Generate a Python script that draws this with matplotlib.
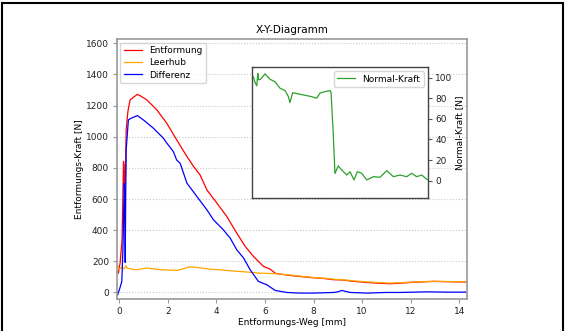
import matplotlib
matplotlib.use("Agg")
import matplotlib.pyplot as plt
from matplotlib.patches import Rectangle

# ---- data ----
entf_x = [-0.03, 0.04, 0.12, 0.18, 0.20, 0.24, 0.29, 0.36, 0.45, 0.59, 0.75, 0.85, 1.14, 1.55, 1.96,
          2.37, 2.79, 3.06, 3.33, 3.61, 4.02, 4.43, 4.84, 5.19, 5.53, 5.94, 6.21, 6.42, 6.6, 7.17,
          7.86, 8.4, 8.82, 9.2, 9.6, 10.19, 10.6, 11.15, 11.6, 11.98, 12.5, 12.93, 13.6, 14.3]
entf_y = [124, 189, 340, 841, 820, 600, 1044, 1162, 1237, 1254, 1272, 1265, 1237, 1173, 1087,
          980, 873, 810, 755, 659, 574, 488, 381, 295, 231, 167, 150, 124, 118, 107,
          96, 90, 82, 80, 72, 64, 60, 56, 60, 64, 68, 71, 69, 67]

leer_x = [-0.05, 0.0, 0.1, 0.2, 0.28, 0.32, 0.5, 0.73, 1.14, 1.4, 1.69, 2.0, 2.37, 2.6, 2.85,
          3.06, 3.4, 3.74, 4.1, 4.43, 5.12, 5.80, 6.49, 7.17, 7.86, 8.4, 8.82, 9.2, 9.6, 10.19,
          10.6, 11.15, 11.6, 11.98, 12.5, 12.93, 13.6, 14.3]
leer_y = [170, 150, 160, 152, 172, 157, 150, 146, 157, 152, 146, 144, 141, 150, 163,
          163, 157, 150, 146, 141, 133, 124, 120, 110, 98, 92, 85, 82, 75, 68,
          64, 60, 63, 66, 69, 72, 70, 68]

diff_x = [-0.07, 0.01, 0.11, 0.16, 0.21, 0.23, 0.25, 0.27, 0.29, 0.33, 0.38, 0.49, 0.66, 0.75, 1.0,
          1.41, 1.82, 1.96, 2.23, 2.37, 2.51, 2.79, 3.2, 3.61, 3.88, 4.29, 4.57, 4.84, 5.12, 5.39,
          5.73, 6.08, 6.42, 6.9, 7.45, 8.0, 8.82, 9.0, 9.16, 9.5, 10.19, 11.0, 11.57, 12.66, 13.5, 14.3]
diff_y = [-19, 17, 71, 300, 702, 600, 193, 600, 916, 1001, 1108, 1119, 1130, 1136, 1108,
          1055, 991, 960, 905, 850, 830, 702, 616, 531, 467, 402, 349, 274, 221, 146,
          71, 49, 13, 0, -4, -4, 0, 4, 13, 0, -4, 0, 0, 4, 2, 2]

norm_x = [0.0, 0.08, 0.2, 0.36, 0.45, 0.5, 0.63, 0.85, 1.04, 1.44, 1.85, 2.26, 2.67, 2.94, 3.07,
          3.29, 3.62, 4.16, 4.81, 5.25, 5.52, 5.93, 6.34, 6.42, 6.58, 6.74, 7.01, 7.29, 7.70, 7.97,
          8.29, 8.56, 8.92, 9.33, 9.87, 10.41, 10.96, 11.50, 12.04, 12.59, 12.99, 13.40, 13.81, 14.22, 14.3]
norm_y = [100, 101, 96, 92, 104, 98, 98, 101, 103.6, 98.4, 96, 89.7, 87.4, 81.6, 75.7,
          85.4, 84.5, 83.2, 81.6, 80, 85, 86.4, 87.4, 86, 50, 7, 14.3, 10.4, 5.5, 8.7,
          0.7, 8.7, 7.2, 0.7, 3.9, 3.3, 9.7, 3.9, 5.5, 3.9, 7.2, 3.9, 5.5, 1.4, 1.0]

title = "X-Y-Diagramm"
xlabel = "Entformungs-Weg [mm]"
ylabel = "Entformungs-Kraft [N]"
ylabel2 = "Normal-Kraft [N]"

# ---- figure ----
W, H = 566, 331
fig = plt.figure(figsize=(W / 100, H / 100), dpi=100)
plt.rcParams['font.family'] = ['DejaVu Sans']
fs = 6.5

def fx(px):
    return px / W

def fy(py):
    return 1 - py / H

# figure frame
fig.patches.append(Rectangle((fx(2), -0.05), fx(563) - fx(2), fy(3) + 0.05,
                             transform=fig.transFigure, fill=False,
                             edgecolor='black', linewidth=1.5, zorder=10))

ax = fig.add_axes([fx(116.7), fy(299), fx(466.7) - fx(116.7), fy(39) - fy(299)])
ax.plot(entf_x, entf_y, color='red', lw=0.9, label='Entformung')
ax.plot(leer_x, leer_y, color='orange', lw=0.9, label='Leerhub')
ax.plot(diff_x, diff_y, color='blue', lw=0.9, label='Differenz')
ax.set_xlim(-0.1, 14.3)
ax.set_ylim(-42, 1628)
ax.set_xticks([0, 2, 4, 6, 8, 10, 12, 14])
ax.set_yticks([0, 200, 400, 600, 800, 1000, 1200, 1400, 1600])
ax.yaxis.grid(True, linestyle=':', color='#c8c8c8', lw=0.8)
for s in ax.spines.values():
    s.set_color('#999999')
    s.set_linewidth(1.2)
ax.tick_params(labelsize=fs, colors='#999999', labelcolor='#222222', length=3, pad=2.5)
ax.set_title(title, fontsize=fs + 1, pad=4)
ax.set_xlabel(xlabel, fontsize=fs, labelpad=2)
ax.set_ylabel(ylabel, fontsize=fs, labelpad=1.5)
ax.legend(loc='upper left', fontsize=fs, handlelength=2.0, borderaxespad=0.4,
          labelspacing=0.35, framealpha=0.8)

ins = fig.add_axes([fx(252.3), fy(197.7), fx(427.7) - fx(252.3), fy(67.3) - fy(197.7)])
ins.plot(norm_x, norm_y, color='#2ca02c', lw=0.9, label='Normal-Kraft')
ins.set_xlim(0, 14.3)
ins.set_ylim(-16.5, 110)
ins.set_xticks([])
ins.yaxis.tick_right()
ins.yaxis.set_label_position('right')
ins.set_yticks([0, 20, 40, 60, 80, 100])
ins.set_ylabel(ylabel2, fontsize=fs, labelpad=2)
ins.tick_params(labelsize=fs, colors='#555555', labelcolor='#222222', length=3, pad=2.5)
for s in ins.spines.values():
    s.set_color('#444444')
    s.set_linewidth(1.0)
ins.legend(loc='upper right', fontsize=fs, handlelength=2.0, borderaxespad=0.4,
           framealpha=0.8)

fig.savefig('out.png', dpi=100)
